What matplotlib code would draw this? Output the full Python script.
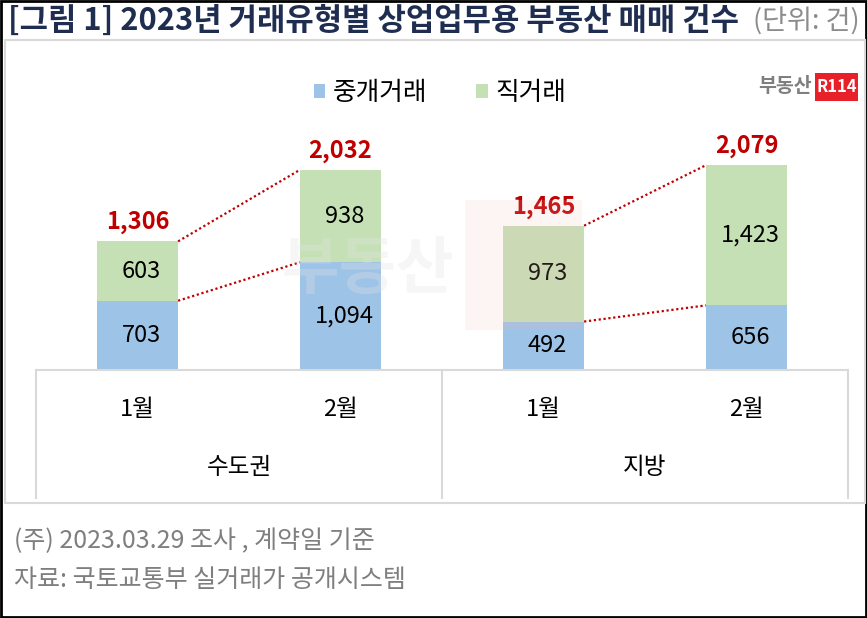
import matplotlib
matplotlib.use("Agg")
import matplotlib.pyplot as plt
from matplotlib.patches import Rectangle
from matplotlib.lines import Line2D

plt.rcParams['font.family'] = ['Noto Sans CJK KR', 'DejaVu Sans']

# ---- data ----
months = ['1월', '2월', '1월', '2월']
regions = ['수도권', '지방']
brokered = [703, 1094, 492, 656]      # 중개거래
direct = [603, 938, 973, 1423]        # 직거래
series_names = ['중개거래', '직거래']
title = '[그림 1] 2023년 거래유형별 상업업무용 부동산 매매 건수'
unit = '(단위: 건)'
notes = ['(주) 2023.03.29 조사 , 계약일 기준', '자료: 국토교통부 실거래가 공개시스템']

C_BLUE = '#9DC3E6'
C_GREEN = '#C5E0B4'
C_RED = '#C00000'
C_GRID = '#D9D9D9'

W, H = 867, 618
fig = plt.figure(figsize=(W / 100, H / 100), dpi=100)

def fx(px):
    return px / W

def fy(py):
    return 1 - py / H

# outer border
fig.patches.append(Rectangle((fx(1), fy(617)), fx(865), 616 / H, transform=fig.transFigure,
                             fill=False, edgecolor='black', linewidth=2))
# chart box
fig.patches.append(Rectangle((fx(5), fy(503)), fx(860), 463 / H, transform=fig.transFigure,
                             fill=False, edgecolor=C_GRID, linewidth=1.5))

# title
fig.text(fx(8), fy(21), title, fontsize=22.2, fontweight='bold', color='#1F2D50',
         va='center', ha='left')
fig.text(fx(860), fy(22), unit, fontsize=19.5, color='#8C8C8C', va='center', ha='right')

# axes
left, right, base, top = 36, 848, 370, 60
ax = fig.add_axes([fx(left), fy(base), fx(right - left), (base - top) / H])
ax.set_xlim(-0.5, 3.5)
ax.set_ylim(0, (base - top) / 0.0985)
ax.axis('off')

x = list(range(len(months)))
bw = 0.4
totals = [a + b for a, b in zip(brokered, direct)]
ax.bar(x, brokered, bw, color=C_BLUE, label=series_names[0], zorder=2)
ax.bar(x, direct, bw, bottom=brokered, color=C_GREEN, label=series_names[1], zorder=2)

for i in x:
    ax.text(i + 0.02, brokered[i] / 2, f'{brokered[i]:,}', ha='center', va='center',
            fontsize=17, color='black', zorder=5)
    ax.text(i + 0.02, brokered[i] + direct[i] / 2, f'{direct[i]:,}', ha='center', va='center',
            fontsize=17, color='black', zorder=5)
    ax.annotate(f'{totals[i]:,}', (i, totals[i]), xytext=(0, 5), textcoords='offset points',
                ha='center', va='bottom', fontsize=17, fontweight='bold', color=C_RED, zorder=5)

# dotted connector lines
for a, b in [(0, 1), (2, 3)]:
    ax.plot([a + bw / 2, b - bw / 2], [totals[a], totals[b]], linestyle=(0, (1, 1.2)),
            color=C_RED, linewidth=1.6, zorder=3)
    ax.plot([a + bw / 2, b - bw / 2], [brokered[a], brokered[b]], linestyle=(0, (1, 1.2)),
            color=C_RED, linewidth=1.6, zorder=3)

# category axis box
lines = [
    ((fx(left), fx(right)), (fy(base), fy(base))),
    ((fx(left), fx(left)), (fy(base), fy(498))),
    ((fx((left + right) / 2), fx((left + right) / 2)), (fy(base), fy(498))),
    ((fx(right), fx(right)), (fy(base), fy(498))),
]
for xs, ys in lines:
    fig.add_artist(Line2D(xs, ys, transform=fig.transFigure, color=C_GRID, linewidth=1.5))

for i, m in enumerate(months):
    ax.text(i, -40 / 0.0985, m, ha='center', va='center', fontsize=17, color='black', clip_on=False)
for j, r in enumerate(regions):
    ax.text(0.5 + 2 * j, -97 / 0.0985, r, ha='center', va='center', fontsize=17, color='black',
            clip_on=False)

# legend
leg = fig.legend(loc='center', bbox_to_anchor=(fx(440), fy(93)), ncol=2, frameon=False,
                 fontsize=18.5, handlelength=0.45, handleheight=0.45, handletextpad=0.3,
                 columnspacing=1.9)

# logo
fig.text(fx(812), fy(87), '부동산', fontsize=14, fontweight='bold', color='#7F7F7F',
         ha='right', va='center')
fig.patches.append(Rectangle((fx(815), fy(101)), fx(43), 28 / H, transform=fig.transFigure,
                             facecolor='#E8202A', edgecolor='none'))
fig.text(fx(836.5), fy(87), 'R114', fontsize=12, fontweight='bold', color='white',
         ha='center', va='center')

# faint watermark
fig.text(fx(368), fy(270), '부동산', fontsize=45, fontweight='bold', color='#E4E4E4',
         alpha=0.3, ha='center', va='center', zorder=10)
fig.patches.append(Rectangle((fx(465), fy(330)), fx(117), 130 / H, transform=fig.transFigure,
                             facecolor='#F4B6B6', edgecolor='none', alpha=0.15, zorder=10))

# footnotes
fig.text(fx(14), fy(541), notes[0], fontsize=18, color='#7F7F7F', va='center', ha='left')
fig.text(fx(14), fy(580), notes[1], fontsize=18, color='#7F7F7F', va='center', ha='left')

fig.savefig('out.png', dpi=100)
